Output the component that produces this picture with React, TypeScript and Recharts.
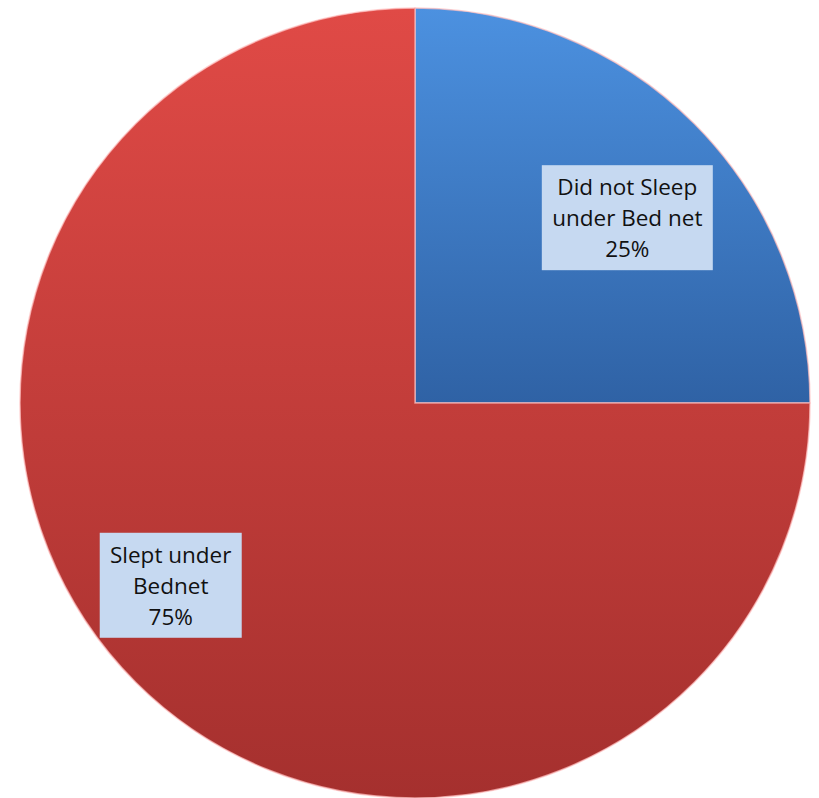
import React from "react";
import { PieChart, Pie, Cell } from "recharts";

const categories = ["Did not Sleep under Bed net", "Slept under Bednet"];
const values = [25, 75];
const labelLines = [
  ["Did not Sleep", "under Bed net", "25%"],
  ["Slept under", "Bednet", "75%"],
];

const data = categories.map((name, i) => ({ name, value: values[i] }));

const gradIds = ["gradBlue", "gradRed"];
const boxW = [171, 142];
const labelR = [0.71, 0.76];
const labelShift = [[14, 13], [-32, -30]];

const RAD = Math.PI / 180;

const renderLabel = (props: any) => {
  const { cx, cy, midAngle, outerRadius, index } = props;
  const r = outerRadius * labelR[index];
  const x = cx + r * Math.cos(-midAngle * RAD) + labelShift[index][0];
  const y = cy + r * Math.sin(-midAngle * RAD) + labelShift[index][1];
  const lines = labelLines[index];
  const lh = 31;
  const h = 105;
  const w = boxW[index];
  return (
    <g>
      <rect x={x - w / 2} y={y - h / 2} width={w} height={h} fill="#C6D9F1" />
      {lines.map((t, i) => (
        <text
          key={i}
          x={x}
          y={y - ((lines.length - 1) * lh) / 2 + i * lh}
          textAnchor="middle"
          dominantBaseline="central"
          fontFamily="'Open Sans', sans-serif"
          fontSize={22.5}
          fill="#111"
        >
          {t}
        </text>
      ))}
    </g>
  );
};

export default function App() {
  return (
    <div style={{ position: "absolute", left: 0, top: 0 }}>
      <PieChart width={819} height={798} margin={{ top: 0, right: 0, bottom: 0, left: 0 }}>
        <defs>
          <linearGradient id="gradBlue" x1="0" y1="0" x2="0" y2="1">
            <stop offset="0%" stopColor="#4C91E0" />
            <stop offset="100%" stopColor="#2F62A5" />
          </linearGradient>
          <linearGradient id="gradRed" x1="0" y1="0" x2="0" y2="1">
            <stop offset="0%" stopColor="#E04A46" />
            <stop offset="100%" stopColor="#A5302E" />
          </linearGradient>
        </defs>
        <Pie
          data={data}
          dataKey="value"
          nameKey="name"
          cx={415}
          cy={403}
          outerRadius={395}
          startAngle={90}
          endAngle={-270}
          stroke="rgba(255,190,190,0.7)"
          strokeWidth={1.5}
          label={renderLabel}
          labelLine={false}
          isAnimationActive={false}
        >
          {data.map((d, i) => (
            <Cell key={d.name} fill={`url(#${gradIds[i]})`} />
          ))}
        </Pie>
      </PieChart>
    </div>
  );
}
